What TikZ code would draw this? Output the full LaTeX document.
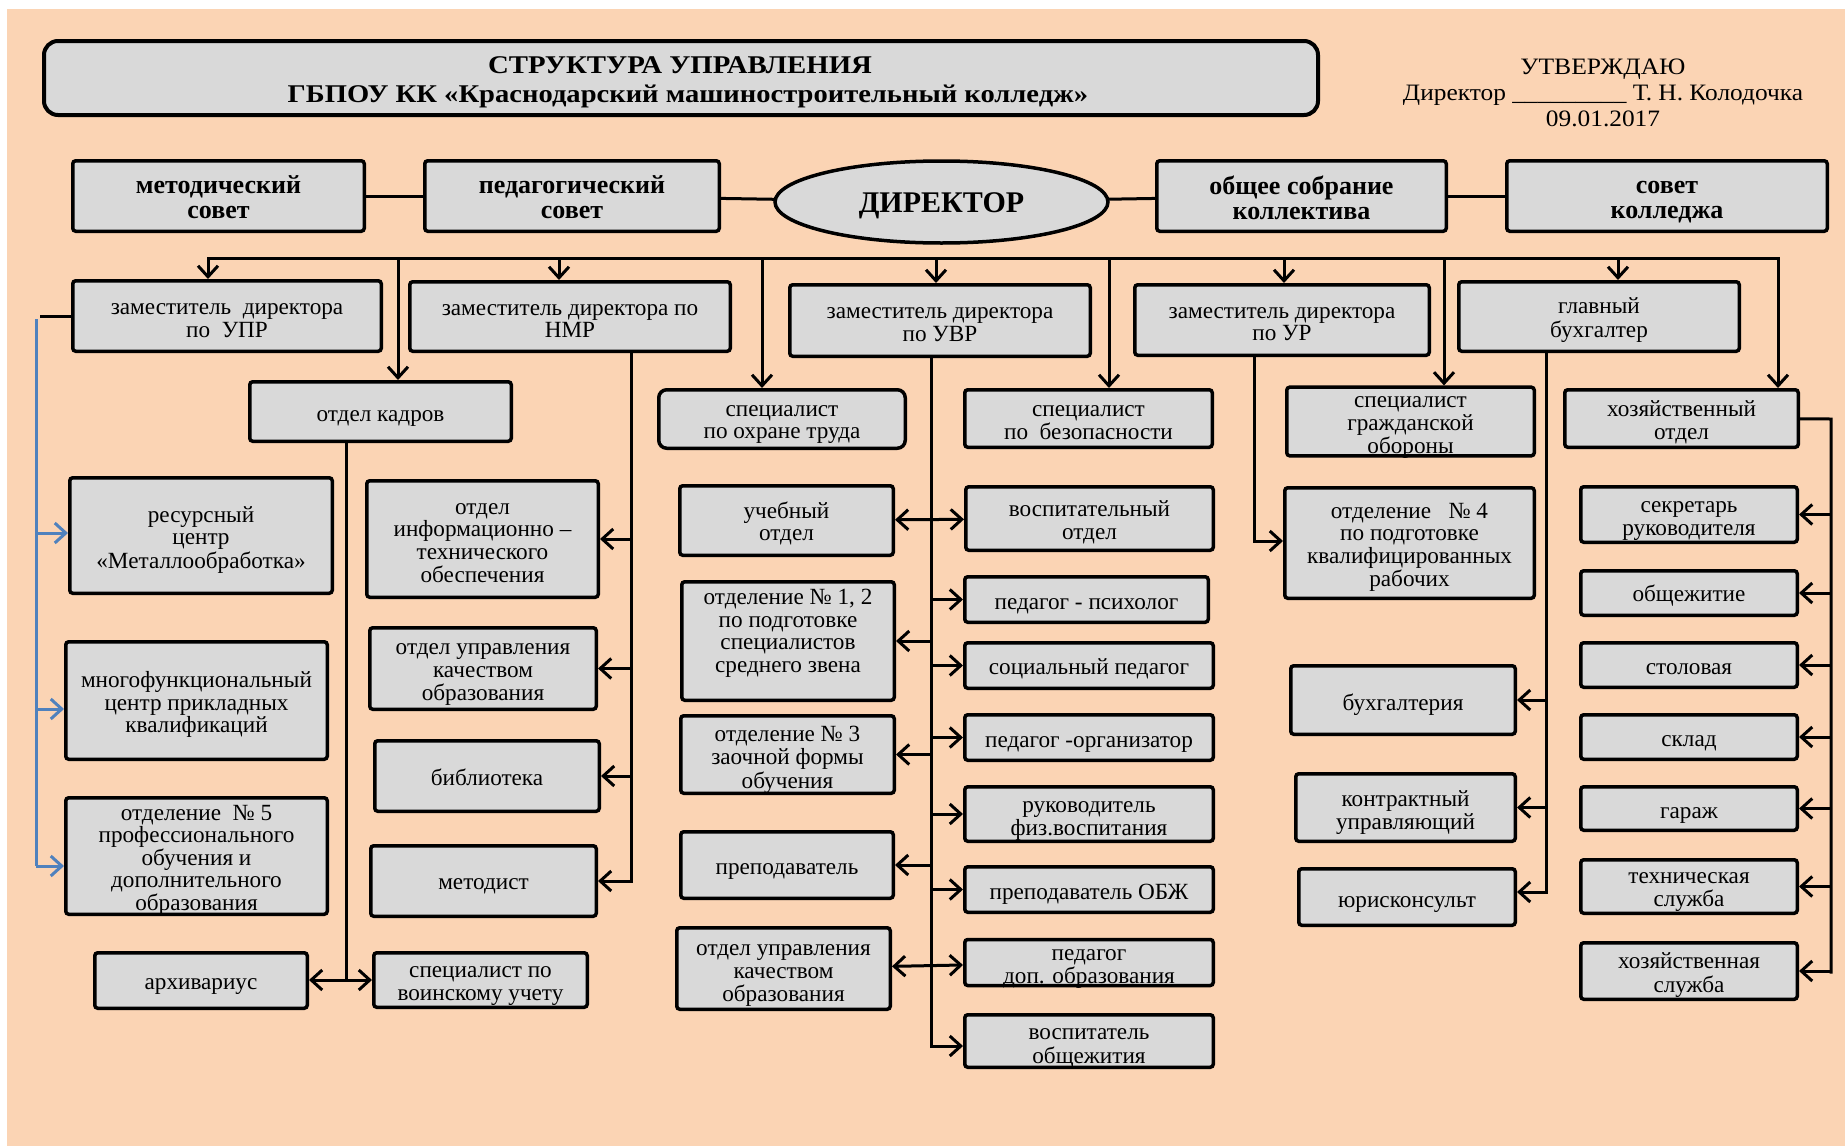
\documentclass[tikz,border=0pt]{standalone}
\usepackage{graphicx}
\usepackage{fontspec}
\setmainfont{Liberation Serif}
\usetikzlibrary{arrows.meta,shapes.geometric}
\definecolor{peach}{HTML}{FBD4B4}
\definecolor{boxgray}{HTML}{D9D9D9}
\definecolor{lineblue}{HTML}{4F81BD}
\def\tsv{5}
\tikzset{
  tshift/.code={\def\tsv{#1}},
  box/.style={draw=black, line width=3.5pt, fill=boxgray, rounded corners=3pt, inner sep=0pt,
    font=\fontsize{23.2}{22.6}\selectfont, tshift=5},
  bbox/.style={box, font=\bfseries\fontsize{26}{25}\selectfont},
  conn/.style={line width=3pt, line cap=rect},
  arr/.style={line width=3pt, -{Straight Barb[length=11pt,width=20pt]}},
  darr/.style={line width=3pt, {Straight Barb[length=11pt,width=20pt]}-{Straight Barb[length=11pt,width=20pt]}},
  bline/.style={line width=3pt, draw=lineblue},
  barr/.style={line width=3pt, draw=lineblue, -{Straight Barb[length=11pt,width=20pt]}},
  plain/.style={inner sep=0pt, anchor=base}
}
% box given by its outer corners; text block lowered by \tsv pt
\newcommand{\bx}[7]{%
  \pgfmathsetmacro{\bxcx}{(#3+#5)/2}%
  \pgfmathsetmacro{\bxcy}{(#4+#6)/2}%
  \pgfmathsetmacro{\bxw}{#5-#3-3.5}%
  \pgfmathsetmacro{\bxh}{#6-#4-3.5}%
  \node[#1, minimum width=\bxw pt, minimum height=\bxh pt] (#2) at (\bxcx,\bxcy)
    {\raisebox{-\tsv pt}[\height][\depth]{\begin{tabular}{@{}c@{}}#7\end{tabular}}};}
\begin{document}
\begin{tikzpicture}[x=1pt,y=-1pt]
\useasboundingbox (0,0) rectangle (1845,1146);
\fill[white] (0,0) rectangle (1845,1146);
\fill[peach] (7,9) rectangle (1845,1146);

% title
\node[draw, line width=4pt, fill=boxgray, rounded corners=14pt, minimum width=1274pt, minimum height=74pt] (title) at (681,78) {};
\node[plain, font=\bfseries\fontsize{25.5}{30}\selectfont] (t1) at (680,73) {\scalebox{1.13}[1]{СТРУКТУРА УПРАВЛЕНИЯ}};
\node[plain, font=\bfseries\fontsize{25.5}{30}\selectfont] (t2) at (688,102) {\scalebox{1.12}[1]{ГБПОУ КК «Краснодарский машиностроительный колледж»}};
\node[plain, font=\fontsize{23.5}{26}\selectfont] (u1) at (1603,74) {\scalebox{1.09}[1]{УТВЕРЖДАЮ}};
\node[plain, font=\fontsize{23.5}{26}\selectfont] (u2) at (1603,100) {\scalebox{1.08}[1]{Директор \_\_\_\_\_\_\_\_\_ Т. Н. Колодочка}};
\node[plain, font=\fontsize{23.5}{26}\selectfont] (u3) at (1603,126) {\scalebox{1.08}[1]{09.01.2017}};

% top row
\bx{bbox}{metod}{71}{159}{366}{233}{методический\\совет}
\bx{bbox}{ped}{423}{159}{721}{233}{педагогический\\совет}
\node[ellipse, draw, line width=3.5pt, fill=boxgray, minimum width=333pt, minimum height=82pt, inner sep=0pt,
  font=\bfseries\fontsize{30}{30}\selectfont] (dir) at (941.5,202) {\raisebox{-4pt}[\height][\depth]{ДИРЕКТОР}};
\bx{bbox}{obsh}{1155}{159}{1448}{233}{общее собрание\\коллектива}
\bx{bbox, tshift=4.5}{sovet}{1505}{159}{1829}{233}{совет\\колледжа}

% row 2
\bx{box, tshift=5.5}{zupr}{71}{279}{383}{353}{заместитель\ \ директора\\по\ \ УПР}
\bx{box, tshift=5.5}{znmr}{408}{280}{732}{353}{заместитель директора по\\НМР}
\bx{box, tshift=5}{zuvr}{788}{283}{1092}{358}{заместитель директора\\по УВР}
\bx{box, tshift=5}{zur}{1133}{283}{1431}{357}{заместитель директора\\по УР}
\bx{box, tshift=4.5}{gb}{1457}{280}{1741}{353}{главный\\бухгалтер}

% row 3
\bx{box}{kadry}{248}{380}{513}{443}{отдел кадров}
\bx{box, rounded corners=8pt, tshift=4}{ohrana}{657}{388}{907}{450}{специалист\\по охране труда}
\bx{box, tshift=5}{bezop}{963}{388}{1214}{449}{специалист\\по\ \ безопасности}
\bx{box, tshift=4.5}{go}{1285}{388}{1536}{455}{специалист\\гражданской\\обороны}
\bx{box}{hoz}{1563}{388}{1800}{449}{хозяйственный\\отдел}

% left column
\bx{box}{res}{68}{476}{334}{595}{ресурсный\\центр\\«Металлообработка»}
\bx{box}{mfc}{64}{640}{329}{761}{многофункциональный\\центр прикладных\\квалификаций}
\bx{box, font=\fontsize{23.2}{21.6}\selectfont}{otd5}{64}{796}{329}{916}{отделение\ \ № 5\\профессионального\\обучения и\\дополнительного\\образования}
\bx{box, tshift=4}{arhiv}{93}{951}{309}{1010}{архивариус}
\bx{box, tshift=4.5}{voin}{372}{951}{589}{1009}{специалист по\\воинскому учету}
\bx{box, tshift=5}{inf}{365}{479}{600}{599}{отдел\\информационно –\\технического\\обеспечения}
\bx{box, tshift=4.5}{kach1}{368}{626}{598}{711}{отдел управления\\качеством\\образования}
\bx{box}{bibl}{373}{739}{601}{813}{библиотека}
\bx{box, tshift=4}{metodist}{369}{844}{598}{918}{методист}

% middle column
\bx{box, tshift=4}{ucheb}{678}{484}{895}{557}{учебный\\отдел}
\bx{box}{vosp}{964}{485}{1215}{552}{воспитательный\\отдел}
\bx{box, tshift=-7}{otd12}{680}{580}{896}{702}{отделение № 1, 2\\по подготовке\\специалистов\\среднего звена}
\bx{box}{psych}{963}{575}{1210}{624}{педагог - психолог}
\bx{box, tshift=4}{soc}{963}{641}{1215}{690}{социальный педагог}
\bx{box, tshift=6}{otd3}{679}{714}{896}{795}{отделение № 3\\заочной формы\\обучения}
\bx{box}{org}{963}{713}{1215}{762}{педагог -организатор}
\bx{box, tshift=5.5}{fiz}{963}{785}{1215}{843}{руководитель\\физ.воспитания}
\bx{box}{prep}{679}{830}{895}{900}{преподаватель}
\bx{box}{obzh}{963}{865}{1215}{914}{преподаватель ОБЖ}
\bx{box, tshift=5.5}{kach2}{675}{926}{892}{1011}{отдел управления\\качеством\\образования}
\bx{box, tshift=5}{dop}{963}{938}{1215}{987}{педагог\\доп. образования}
\bx{box, tshift=6}{vosp2}{963}{1013}{1215}{1069}{воспитатель\\общежития}

% right-middle column
\bx{box}{otd4}{1283}{486}{1536}{600}{отделение\ \ \ № 4\\по подготовке\\квалифицированных\\рабочих}
\bx{box, tshift=6}{buh}{1289}{664}{1517}{736}{бухгалтерия}
\bx{box, tshift=6}{kontr}{1294}{772}{1517}{843}{контрактный\\управляющий}
\bx{box, tshift=6}{yur}{1297}{867}{1517}{927}{юрисконсульт}

% right column
\bx{box, tshift=5}{sekr}{1579}{485}{1799}{544}{секретарь\\руководителя}
\bx{box, tshift=4}{obshch}{1579}{569}{1799}{617}{общежитие}
\bx{box}{stol}{1579}{641}{1799}{689}{столовая}
\bx{box, tshift=4.5}{sklad}{1579}{713}{1799}{761}{склад}
\bx{box}{garazh}{1579}{785}{1799}{832}{гараж}
\bx{box, tshift=4}{tech}{1579}{858}{1799}{915}{техническая\\служба}
\bx{box}{hozsl}{1579}{941}{1799}{1001}{хозяйственная\\служба}

% top links
\draw[conn] (metod) -- (ped);
\draw[conn] (ped) -- (dir);
\draw[conn] (dir) -- (obsh);
\draw[conn] (obsh) -- (sovet);

% bus
\coordinate (d1) at (208,258);
\coordinate (d2) at (398,258);
\coordinate (d3) at (559,258);
\coordinate (d4) at (762,258);
\coordinate (d5) at (936,258);
\coordinate (d6) at (1109,258);
\coordinate (d7) at (1284,258);
\coordinate (d8) at (1444,258);
\coordinate (d9) at (1618,258);
\coordinate (d10) at (1778,258);
\draw[conn] (d1) -- (d10);
\draw[arr] (d1) -- (d1 |- zupr.north);
\draw[arr] (d2) -- (d2 |- kadry.north);
\draw[arr] (d3) -- (d3 |- znmr.north);
\draw[arr] (d4) -- (d4 |- ohrana.north);
\draw[arr] (d5) -- (d5 |- zuvr.north);
\draw[arr] (d6) -- (d6 |- bezop.north);
\draw[arr] (d7) -- (d7 |- zur.north);
\draw[arr] (d8) -- (d8 |- go.north);
\draw[arr] (d9) -- (d9 |- gb.north);
\draw[arr] (d10) -- (d10 |- hoz.north);

% UPR blue branch
\coordinate (upL) at (40,316);
\draw[line width=3pt] (zupr) -- (upL);
\coordinate (bT) at (36,319);
\coordinate (b1) at (36,533);
\coordinate (b2) at (36,709);
\coordinate (b3) at (36,866);
\draw[bline] (bT) -- (b3);
\draw[barr] (b1) -- (b1 -| res.west);
\draw[barr] (b2) -- (b2 -| mfc.west);
\draw[barr] (b3) -- (b3 -| otd5.west);

% kadry branch
\coordinate (kB) at (346,980);
\draw[conn] (kB |- kadry.south) -- (kB);
\draw[darr] (kB -| arhiv.east) -- (kB -| voin.west);

% NMR branch
\coordinate (nB) at (631,881);
\draw[conn] (nB |- znmr.south) -- (nB);
\draw[arr] (nB |- inf) -- (inf);
\draw[arr] (nB |- kach1) -- (kach1);
\draw[arr] (nB |- bibl) -- (bibl);
\draw[arr] (nB |- metodist) -- (metodist);

% UVR branch
\coordinate (vB) at (931,1046);
\draw[arr] (vB |- zuvr.south) -- (vB) -- (vB -| vosp2.west);
\draw[darr] (ucheb) -- (vosp);
\draw[arr] (vB |- psych) -- (psych);
\draw[arr] (vB |- otd12) -- (otd12);
\draw[arr] (vB |- soc) -- (soc);
\draw[arr] (vB |- org) -- (org);
\draw[arr] (vB |- otd3) -- (otd3);
\draw[arr] (vB |- fiz) -- (fiz);
\draw[arr] (vB |- prep) -- (prep);
\draw[arr] (vB |- obzh) -- (obzh);
\draw[darr] (kach2) -- (dop);

% UR branch
\coordinate (rB) at (1254,541);
\draw[arr] (rB |- zur.south) -- (rB) -- (rB -| otd4.west);

% chief accountant branch
\coordinate (gB) at (1546,892);
\draw[conn] (gB |- gb.south) -- (gB);
\draw[arr] (gB |- buh) -- (buh);
\draw[arr] (gB |- kontr) -- (kontr);
\draw[arr] (gB) -- (gB -| yur.east);

% household branch
\coordinate (hT) at (1831,419);
\coordinate (hB) at (1831,972);
\draw[conn] (hoz) -- (hT) -- (hB);
\draw[arr] (hB |- sekr) -- (sekr);
\draw[arr] (hB |- obshch) -- (obshch);
\draw[arr] (hB |- stol) -- (stol);
\draw[arr] (hB |- sklad) -- (sklad);
\draw[arr] (hB |- garazh) -- (garazh);
\draw[arr] (hB |- tech) -- (tech);
\draw[arr] (hB |- hozsl) -- (hozsl);
\end{tikzpicture}
\end{document}
